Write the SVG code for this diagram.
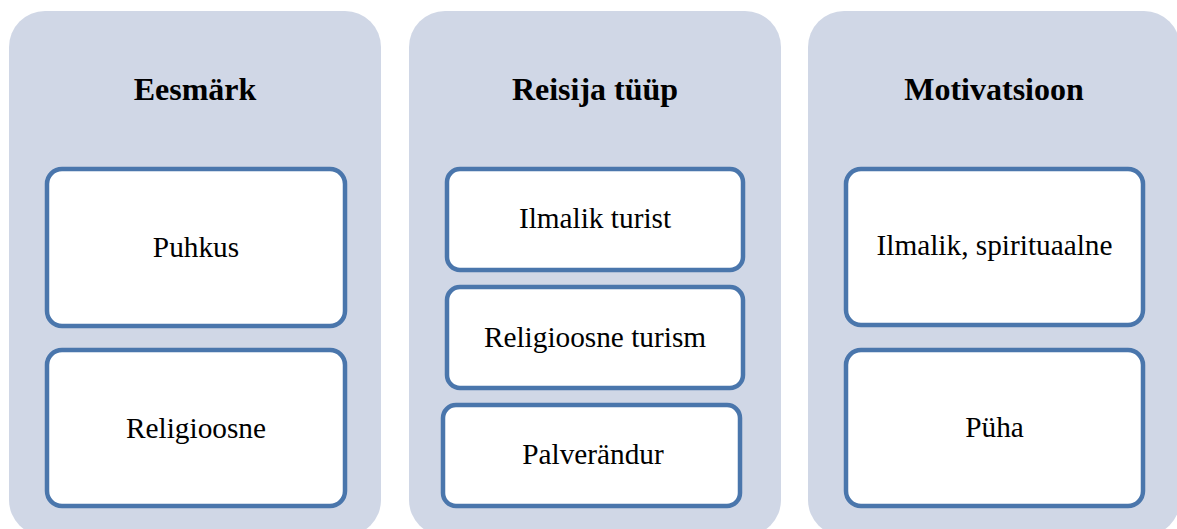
<svg xmlns="http://www.w3.org/2000/svg" width="1177" height="529" viewBox="0 0 1177 529">
<style>
.panel{fill:#d0d7e6;stroke:none}
.box{fill:#ffffff;stroke:#4a76ac;stroke-width:4.5}
.hdr{font-family:"Liberation Serif","Times New Roman",serif;font-weight:bold;font-size:32px;fill:#000;text-anchor:middle}
.lbl{font-family:"Liberation Serif","Times New Roman",serif;font-size:29.3px;fill:#000;text-anchor:middle}
</style>
<rect width="1177" height="529" fill="#ffffff"/>
<g id="panel-eesmark">
<rect class="panel" x="9" y="11" width="372" height="525" rx="36"/>
<text class="hdr" x="195" y="100">Eesmärk</text>
</g>
<g id="panel-reisija">
<rect class="panel" x="409" y="11" width="372" height="525" rx="36"/>
<text class="hdr" x="595" y="100">Reisija tüüp</text>
</g>
<g id="panel-motivatsioon">
<rect class="panel" x="808" y="11" width="372" height="525" rx="36"/>
<text class="hdr" x="994" y="100">Motivatsioon</text>
</g>
<g id="node-puhkus">
<rect class="box" x="47" y="169" width="298" height="157" rx="15"/>
<text class="lbl" x="196" y="257">Puhkus</text>
</g>
<g id="node-religioosne">
<rect class="box" x="47" y="350" width="298" height="156" rx="15"/>
<text class="lbl" x="196" y="438">Religioosne</text>
</g>
<g id="node-ilmalik-turist">
<rect class="box" x="447" y="169" width="296" height="101" rx="13"/>
<text class="lbl" x="595" y="228">Ilmalik turist</text>
</g>
<g id="node-religioosne-turism">
<rect class="box" x="447" y="287" width="296" height="101" rx="13"/>
<text class="lbl" x="595" y="347">Religioosne turism</text>
</g>
<g id="node-palverandur">
<rect class="box" x="443" y="405" width="297" height="101" rx="13"/>
<text class="lbl" x="593" y="464">Palverändur</text>
</g>
<g id="node-ilmalik-spirituaalne">
<rect class="box" x="846" y="169" width="297" height="156" rx="15"/>
<text class="lbl" x="994.5" y="255">Ilmalik, spirituaalne</text>
</g>
<g id="node-puha">
<rect class="box" x="846" y="350" width="297" height="156" rx="15"/>
<text class="lbl" x="994.5" y="437">Püha</text>
</g>
<g id="connectors"></g>
</svg>
